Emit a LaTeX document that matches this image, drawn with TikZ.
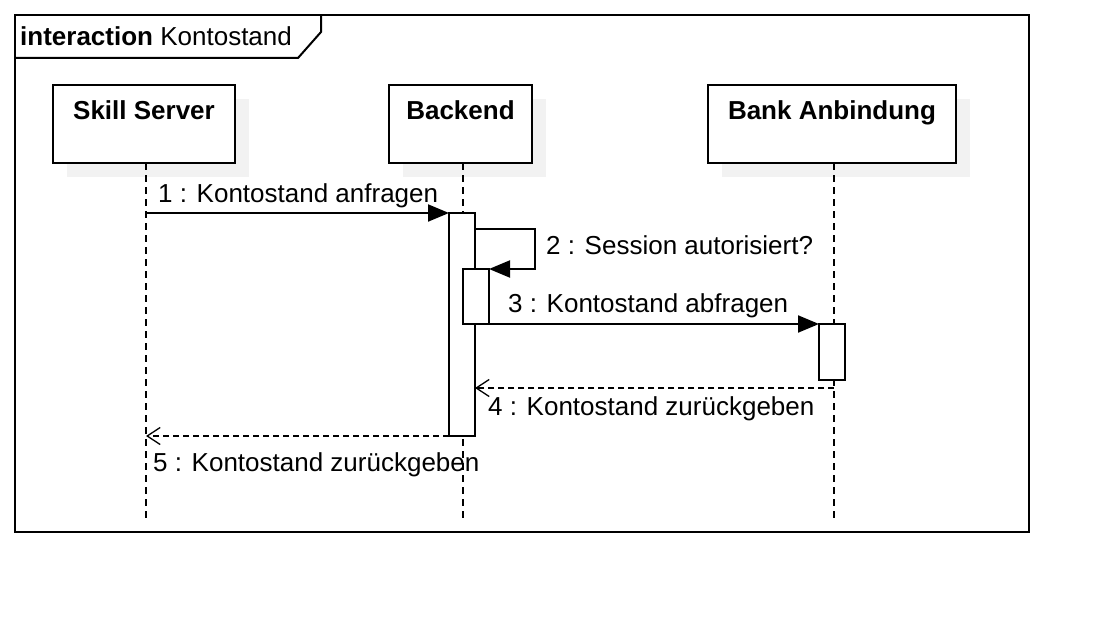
\documentclass[tikz,border=0pt]{standalone}
\usepackage{fontspec}
\setmainfont{Liberation Sans}
\usetikzlibrary{arrows.meta}
\definecolor{shadowgray}{HTML}{F2F2F2}
\tikzset{
  base/.style={line width=2pt},
  lifebox/.style={draw, line width=2pt, fill=white, rectangle, inner sep=0pt, outer sep=0pt},
  shadowbox/.style={fill=shadowgray, rectangle, inner sep=0pt, outer sep=0pt, draw=none},
  boxlabel/.style={font=\fontsize{26}{30}\selectfont\bfseries, inner sep=0pt, anchor=base},
  msglabel/.style={font=\fontsize{26}{30}\selectfont, inner sep=0pt, anchor=base west},
  lifeline/.style={line width=2pt, dash pattern=on 7pt off 5pt},
  actbar/.style={draw, line width=2pt, fill=white, rectangle, inner sep=0pt, outer sep=0pt, minimum width=26pt},
  syncmsg/.style={line width=2pt, -{Triangle[length=21pt,width=17pt]}},
  replymsg/.style={line width=2pt, dash pattern=on 6pt off 4pt, -{Straight Barb[length=13pt,width=17pt,line width=1.3pt]}},
}
\begin{document}
\begin{tikzpicture}[x=1pt,y=-1pt]
\useasboundingbox (0,0) rectangle (1114,618);
% frame
\draw[base] (15,15) rectangle (1029,532);
\draw[base] (15,58) -- (298,58) -- (321,32) -- (321,15);
\node[inner sep=0pt, anchor=base west, font=\fontsize{26}{30}\selectfont] (title) at (20,46) {\textbf{interaction} Kontostand};
% shadows
\node[shadowbox, minimum width=182pt, minimum height=78pt] (ssh) at (158,138) {};
\node[shadowbox, minimum width=143pt, minimum height=78pt] (bsh) at (474.5,138) {};
\node[shadowbox, minimum width=248pt, minimum height=78pt] (bash) at (846,138) {};
% lifeline boxes
\node[lifebox, minimum width=182pt, minimum height=78pt] (ss) at (144,124) {};
\node[lifebox, minimum width=143pt, minimum height=78pt] (be) at (460.5,124) {};
\node[lifebox, minimum width=248pt, minimum height=78pt] (ba) at (832,124) {};
\node[boxlabel] (ssl) at (144,119.5) {Skill Server};
\node[boxlabel] (bel) at (460.5,119.5) {Backend};
\node[boxlabel] (bal) at (832,119.5) {Bank Anbindung};
% lifeline ends
\coordinate (ssend) at (146,518);
\coordinate (beend) at (463,518);
\coordinate (baend) at (834,518);
\draw[lifeline] (ss.south -| ssend) -- (ssend);
\draw[lifeline] (be.south -| beend) -- (beend);
\draw[lifeline] (ba.south -| baend) -- (baend);
% activations
\node[actbar, minimum height=223pt] (act1) at (462,324.5) {};
\node[actbar, minimum height=55pt] (act2) at (476,296.5) {};
\node[actbar, minimum height=56pt] (act3) at (832,352) {};
% message 1
\coordinate (m1s) at (146,213);
\draw[syncmsg] (m1s) -- (act1.north west);
\node[msglabel] (l1) at (158,202) {1 : Kontostand anfragen};
% message 2 (self)
\coordinate (m2a) at (475,229);
\coordinate (m2b) at (535,229);
\coordinate (m2c) at (535,269);
\draw[syncmsg] (m2a) -- (m2b) -- (m2c) -- (act2.north east);
\node[msglabel] (l2) at (546,254) {2 : Session autorisiert?};
% message 3
\draw[syncmsg] (act2.south east) -- (act3.north west);
\node[msglabel] (l3) at (508,312) {3 : Kontostand abfragen};
% message 4
\coordinate (m4s) at (834,388);
\coordinate (m4e) at (475,388);
\draw[replymsg] (m4s) -- (m4e);
\node[msglabel] (l4) at (488,415.5) {4 : Kontostand zurückgeben};
% message 5
\coordinate (m5e) at (146,436);
\draw[replymsg] (act1.south west) -- (m5e);
\node[msglabel] (l5) at (153,471.5) {5 : Kontostand zurückgeben};
\end{tikzpicture}
\end{document}
